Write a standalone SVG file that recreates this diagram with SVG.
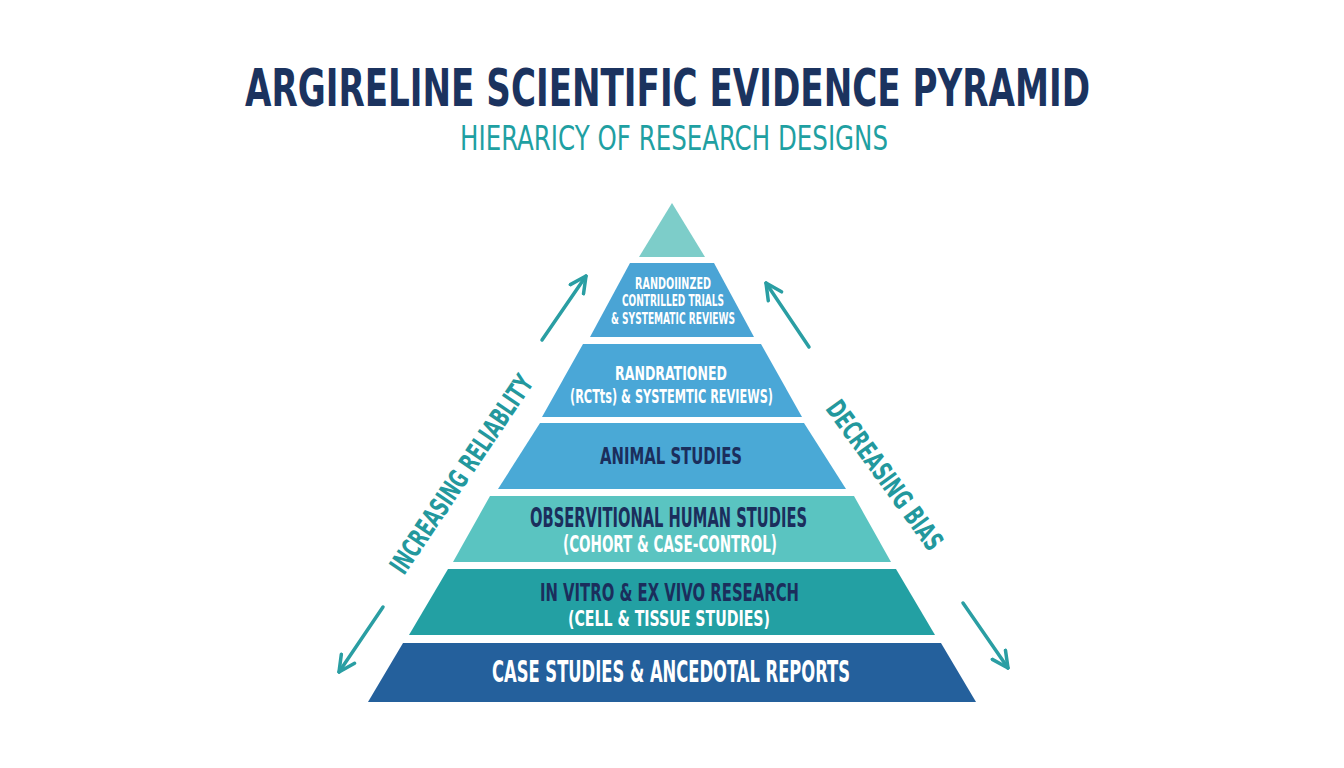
<svg xmlns="http://www.w3.org/2000/svg" width="1344" height="768" viewBox="0 0 1344 768">
  <defs>
    <style>
      .f { font-family: "DejaVu Sans Condensed", "Liberation Sans Narrow", "Liberation Sans", sans-serif; font-weight: bold; text-anchor: middle; }
      .title { fill: #1b335f; }
      .sub { fill: #1fa0a2; font-weight: normal; }
      .w { fill: #ffffff; }
      .n { fill: #1b2e5c; }
      .side { fill: #23989d; }
      .arrow { fill: none; stroke: #2a9ea3; stroke-width: 3.5; stroke-linecap: round; }
    </style>
    <marker id="head" viewBox="0 0 20 20" refX="18" refY="10" markerWidth="20" markerHeight="20" markerUnits="userSpaceOnUse" orient="auto">
      <path d="M2,2 L18,10 L2,18" fill="none" stroke="#2a9ea3" stroke-width="3.5" stroke-linecap="round" stroke-linejoin="round"/>
    </marker>
  </defs>
  <rect width="1344" height="768" fill="#ffffff"/>

  <g id="title">
    <text class="f title" font-size="37.9" transform="translate(667.5,106) scale(1,1.37)" textLength="845" lengthAdjust="spacingAndGlyphs">ARGIRELINE SCIENTIFIC EVIDENCE PYRAMID</text>
    <text class="f sub" font-size="27" transform="translate(674,150) scale(1,1.27)" textLength="428" lengthAdjust="spacingAndGlyphs">HIERARICY OF RESEARCH DESIGNS</text>
  </g>

  <g id="tier-apex">
    <polygon points="672,203 705,257 639,257" fill="#7dcdc9"/>
  </g>
  <g id="tier-rct">
    <polygon points="630,263 714,263 754,337 590,337" fill="#4aa4d5"/>
    <text class="f w" font-size="10.2" transform="translate(673,288.5) scale(1,1.55)" textLength="76" lengthAdjust="spacingAndGlyphs">RANDOIINZED</text>
    <text class="f w" font-size="10.2" transform="translate(673,306) scale(1,1.55)" textLength="102" lengthAdjust="spacingAndGlyphs">CONTRILLED TRIALS</text>
    <text class="f w" font-size="10.2" transform="translate(673,323.5) scale(1,1.55)" textLength="124" lengthAdjust="spacingAndGlyphs">&amp; SYSTEMATIC REVIEWS</text>
  </g>
  <g id="tier-rand">
    <polygon points="583,344 761,344 802,417 542,417" fill="#4aa7d7"/>
    <text class="f w" font-size="13.2" transform="translate(671,379.5) scale(1,1.5)" textLength="112" lengthAdjust="spacingAndGlyphs">RANDRATIONED</text>
    <text class="f w" font-size="13.2" transform="translate(671.5,402.5) scale(1,1.5)" textLength="203" lengthAdjust="spacingAndGlyphs">(RCTts) &amp; SYSTEMTIC REVIEWS)</text>
  </g>
  <g id="tier-animal">
    <polygon points="540,423 804,423 846,489 498,489" fill="#4aa9d6"/>
    <text class="f n" font-size="16.5" transform="translate(671,463.5) scale(1,1.37)" textLength="142" lengthAdjust="spacingAndGlyphs">ANIMAL STUDIES</text>
  </g>
  <g id="tier-observational">
    <polygon points="490,496 854,496 891,562 453,562" fill="#5ac4c1"/>
    <text class="f n" font-size="16.3" transform="translate(668.5,527) scale(1,1.6)" textLength="277" lengthAdjust="spacingAndGlyphs">OBSERVITIONAL HUMAN STUDIES</text>
    <text class="f w" font-size="15" transform="translate(670,552) scale(1,1.55)" textLength="214" lengthAdjust="spacingAndGlyphs">(COHORT &amp; CASE-CONTROL)</text>
  </g>
  <g id="tier-invitro">
    <polygon points="448,569 896,569 935,635 409,635" fill="#23a0a3"/>
    <text class="f n" font-size="16.5" transform="translate(669.5,601) scale(1,1.5)" textLength="259" lengthAdjust="spacingAndGlyphs">IN VITRO &amp; EX VIVO RESEARCH</text>
    <text class="f w" font-size="15.7" transform="translate(669,625.5) scale(1,1.38)" textLength="202" lengthAdjust="spacingAndGlyphs">(CELL &amp; TISSUE STUDIES)</text>
  </g>
  <g id="tier-case">
    <polygon points="403,643 941,643 976,702 368,702" fill="#24609c"/>
    <text class="f w" font-size="18.1" transform="translate(671,682) scale(1,1.67)" textLength="358" lengthAdjust="spacingAndGlyphs">CASE STUDIES &amp; ANCEDOTAL REPORTS</text>
  </g>

  <g id="label-left">
    <text class="f side" font-size="18.9" transform="translate(461,474) rotate(-56) scale(1,1.42)" y="6.9" textLength="233" lengthAdjust="spacingAndGlyphs">INCREASING RELIABLITY</text>
  </g>
  <g id="label-right">
    <text class="f side" font-size="19.4" transform="translate(885,475) rotate(54) scale(1,1.4)" y="7" textLength="178" lengthAdjust="spacingAndGlyphs">DECREASING BIAS</text>
  </g>

  <g id="connectors">
    <line class="arrow" x1="542" y1="340" x2="586" y2="276" marker-end="url(#head)"/>
    <line class="arrow" x1="383" y1="607" x2="339" y2="672" marker-end="url(#head)"/>
    <line class="arrow" x1="809" y1="347" x2="766" y2="283" marker-end="url(#head)"/>
    <line class="arrow" x1="963" y1="603" x2="1008" y2="668" marker-end="url(#head)"/>
  </g>
</svg>
